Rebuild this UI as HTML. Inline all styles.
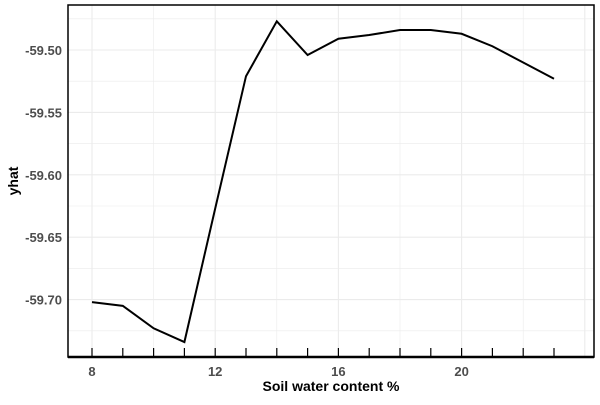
<!DOCTYPE html>
<html><head><meta charset="utf-8"><style>
body{margin:0;background:#fff;}
text{font-family:"Liberation Sans",sans-serif;font-weight:bold;}
</style></head><body>
<svg width="600" height="400" xmlns="http://www.w3.org/2000/svg">
<g id="grid"></g>
<g id="marks"></g>
<rect x="68" y="5" width="526" height="352" fill="none" stroke="#000" stroke-width="1.5"/>
<line x1="68" y1="357" x2="594" y2="357" stroke="#000" stroke-width="2.5"/>
<g id="axes"></g>
<text x="331" y="391" text-anchor="middle" font-size="14" fill="#000">Soil water content %</text>
<text transform="translate(18,181) rotate(-90)" text-anchor="middle" font-size="14" fill="#000">yhat</text>
</svg>
<script>
const xs=[8,9,10,11,12,13,14,15,16,17,18,19,20,21,22,23];
const ys=[-59.702,-59.705,-59.723,-59.734,-59.627,-59.521,-59.477,-59.504,-59.491,-59.488,-59.484,-59.484,-59.487,-59.497,-59.510,-59.523];
const xTicks=[8,12,16,20];
const yTicks=[-59.70,-59.65,-59.60,-59.55,-59.50];
const yTickLabels=["-59.70","-59.65","-59.60","-59.55","-59.50"];
const NS="http://www.w3.org/2000/svg";
const X=v=>92+(v-8)*30.8;
const Y=v=>50+(-59.50-v)/0.05*62.4;
function mk(t,a,p){const e=document.createElementNS(NS,t);for(const k in a)e.setAttribute(k,a[k]);p.appendChild(e);return e;}
const g=document.getElementById('grid'),ax=document.getElementById('axes'),m=document.getElementById('marks');
for(let v=6;v<=24;v+=2){const x=X(v);if(x<68||x>594)continue;const l=mk('line',{x1:x,x2:x,y1:5,y2:357,stroke:'#ebebeb','stroke-width':v%4==0?1.1:0.6},g);

}
for(let v=-59.725;v<=-59.47;v+=0.025){const y=Y(v);if(y<5||y>357)continue;const l=mk('line',{x1:68,x2:594,y1:y,y2:y,stroke:'#ebebeb','stroke-width':Math.abs(Math.round(v*40)-v*40)<0.01&&Math.round(v*40)%2==0?1.1:0.6},g);

}
for(let v=8;v<=23;v++){const l=mk('line',{x1:X(v),x2:X(v),y1:348,y2:357,stroke:'#000','stroke-width':1.2},ax);

}
xTicks.forEach(v=>{const t=mk('text',{x:X(v),y:376,'text-anchor':'middle','font-size':13,fill:'#4d4d4d'},ax);t.textContent=v;

});
yTicks.forEach((v,i)=>{const t=mk('text',{x:62,y:Y(v)+5,'text-anchor':'end','font-size':13,fill:'#4d4d4d'},ax);t.textContent=yTickLabels[i];

});
const p=mk('polyline',{points:xs.map((x,i)=>X(x)+','+Y(ys[i])).join(' '),fill:'none',stroke:'#000','stroke-width':2},m);


</script>
</body></html>
